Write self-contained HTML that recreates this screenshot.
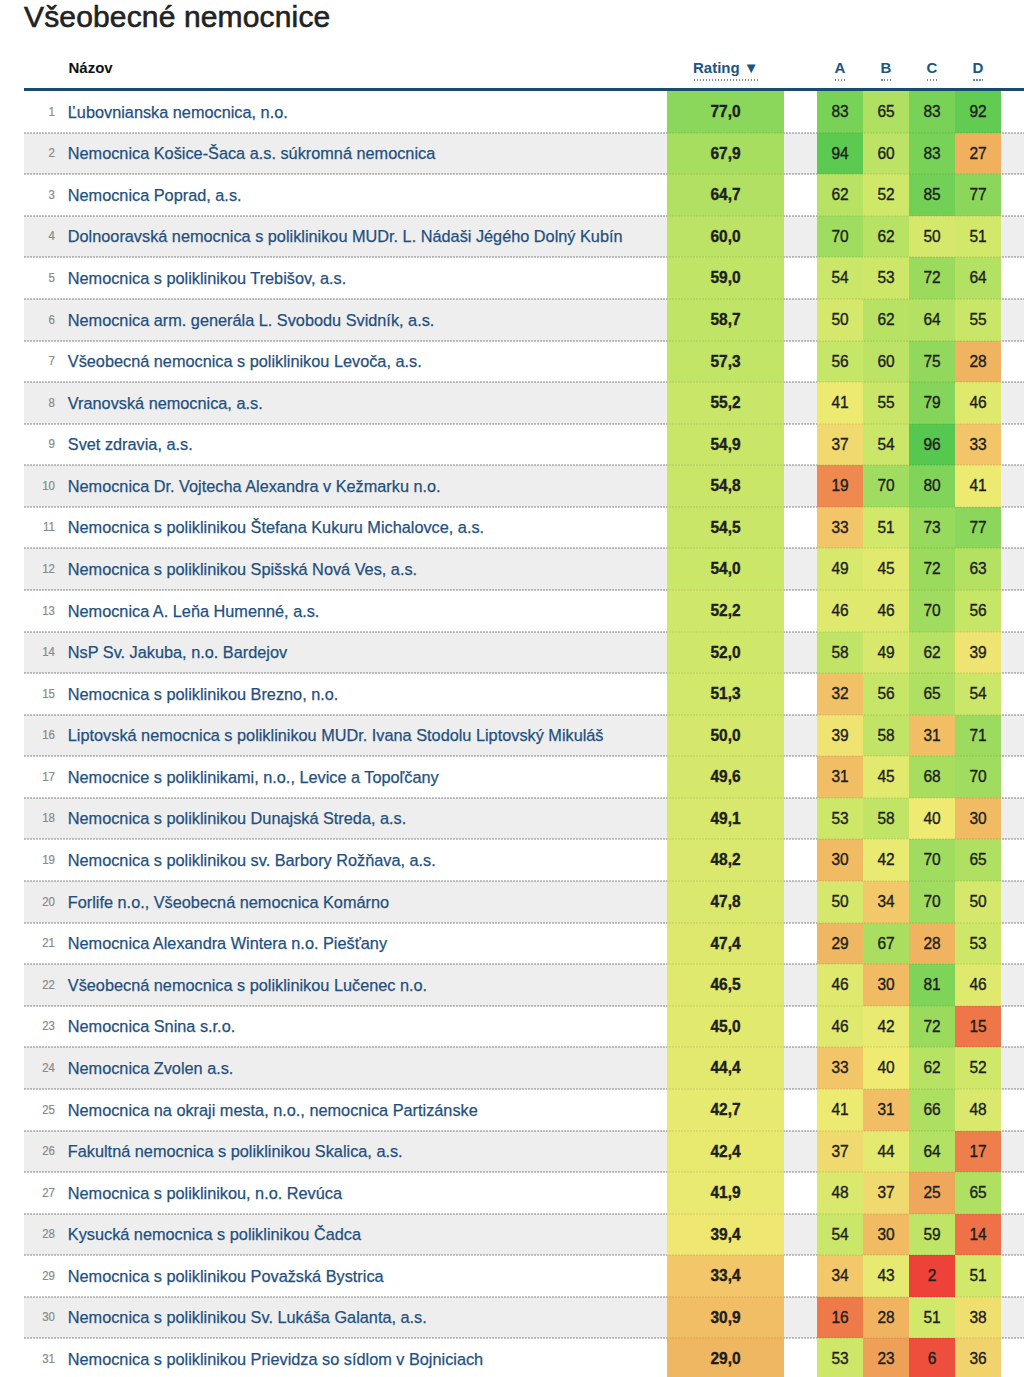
<!DOCTYPE html>
<html><head><meta charset="utf-8"><style>
html,body{margin:0;padding:0;background:#fff;}
body{width:1024px;height:1377px;overflow:hidden;position:relative;font-family:"Liberation Sans",sans-serif;}
.t{position:absolute;white-space:nowrap;}
.title{-webkit-text-stroke:0.6px #222;left:24px;top:-3.5px;font-size:30px;line-height:40px;color:#222;letter-spacing:0.15px;}
.hd{position:absolute;top:53px;height:30px;line-height:30px;font-weight:bold;font-size:15px;white-space:nowrap;}
.hd.blue{color:#1d5582;}
.ul{position:absolute;top:79px;height:2px;background-image:repeating-linear-gradient(90deg,#6d8da6 0,#6d8da6 1.5px,transparent 1.5px,transparent 3px);}
.bar{position:absolute;left:24px;width:1000px;top:88px;height:3px;background:#1a4b6c;}
.row{position:absolute;left:24px;width:1000px;height:41.577px;}
.row.g{background:#eeeeee;}
.dot{position:absolute;left:24px;width:1000px;height:2px;background-image:repeating-linear-gradient(90deg,rgba(0,0,0,0.19) 0,rgba(0,0,0,0.19) 2px,transparent 2px,transparent 3px);z-index:1;}
.dot.f{z-index:3;background-image:repeating-linear-gradient(90deg,rgba(0,0,0,0.06) 0,rgba(0,0,0,0.06) 2px,transparent 2px,transparent 3px);}
.num{position:absolute;left:0;width:31px;text-align:right;font-size:11.5px;color:#8a8a8a;top:0;}
.nm{-webkit-text-stroke:0.25px #1f5080;position:absolute;left:43.8px;font-size:16.3px;color:#1f5080;top:0;white-space:nowrap;letter-spacing:0px;}
.c{z-index:2;-webkit-text-stroke:0.35px #1e1e1e;position:absolute;top:0;height:100%;text-align:center;color:#1e1e1e;}
.r{left:643px;width:117px;font-weight:bold;font-size:15.5px;}
.s{width:46px;font-size:15.5px;}
.c span{display:inline-block;transform:scaleY(1.07);transform-origin:50% 26px;}
.num{-webkit-text-stroke:0.2px #8a8a8a;transform:scaleY(1.15);transform-origin:50% 26px;}
</style></head><body>

<div class="t title">Všeobecné nemocnice</div>
<div class="hd" style="left:68.5px;color:#111">Názov</div>
<div class="hd blue" style="left:693px">Rating ▼</div>
<div class="ul" style="left:694px;width:64px"></div>
<div class="hd blue" style="left:817px;width:46px;text-align:center">A</div>
<div class="ul" style="left:835px;width:10px"></div>
<div class="hd blue" style="left:863px;width:46px;text-align:center">B</div>
<div class="ul" style="left:881px;width:10px"></div>
<div class="hd blue" style="left:909px;width:46px;text-align:center">C</div>
<div class="ul" style="left:927px;width:10px"></div>
<div class="hd blue" style="left:955px;width:46px;text-align:center">D</div>
<div class="ul" style="left:973px;width:10px"></div>
<div class="bar"></div>
<div class="row" style="top:91px;height:42px;line-height:42px"><div class="num">1</div><div class="nm">Ľubovnianska nemocnica, n.o.</div><div class="c r" style="background:#8bd75b"><span>77,0</span></div><div class="c s" style="left:793px;background:#78d258"><span>83</span></div><div class="c s" style="left:839px;background:#b0e062"><span>65</span></div><div class="c s" style="left:885px;background:#78d258"><span>83</span></div><div class="c s" style="left:931px;background:#61cb52"><span>92</span></div></div>
<div class="row g" style="top:133px;height:41px;line-height:41px"><div class="num">2</div><div class="nm">Nemocnica Košice-Šaca a.s. súkromná nemocnica</div><div class="c r" style="background:#a7de60"><span>67,9</span></div><div class="c s" style="left:793px;background:#5cc950"><span>94</span></div><div class="c s" style="left:839px;background:#bce365"><span>60</span></div><div class="c s" style="left:885px;background:#78d258"><span>83</span></div><div class="c s" style="left:931px;background:#f0b05e"><span>27</span></div></div>
<div class="dot" style="top:132.00px"></div>
<div class="dot f" style="top:132.00px"></div>
<div class="row" style="top:174px;height:42px;line-height:42px"><div class="num">3</div><div class="nm">Nemocnica Poprad, a.s.</div><div class="c r" style="background:#b1e062"><span>64,7</span></div><div class="c s" style="left:793px;background:#b7e264"><span>62</span></div><div class="c s" style="left:839px;background:#d0e86a"><span>52</span></div><div class="c s" style="left:885px;background:#73d057"><span>85</span></div><div class="c s" style="left:931px;background:#8bd75b"><span>77</span></div></div>
<div class="dot" style="top:173.00px"></div>
<div class="dot f" style="top:173.00px"></div>
<div class="row g" style="top:216px;height:41px;line-height:41px"><div class="num">4</div><div class="nm">Dolnooravská nemocnica s poliklinikou MUDr. L. Nádaši Jégého Dolný Kubín</div><div class="c r" style="background:#bce365"><span>60,0</span></div><div class="c s" style="left:793px;background:#a0dc5f"><span>70</span></div><div class="c s" style="left:839px;background:#b7e264"><span>62</span></div><div class="c s" style="left:885px;background:#d5e86b"><span>50</span></div><div class="c s" style="left:931px;background:#d2e86b"><span>51</span></div></div>
<div class="dot" style="top:215.00px"></div>
<div class="dot f" style="top:215.00px"></div>
<div class="row" style="top:257px;height:42px;line-height:42px"><div class="num">5</div><div class="nm">Nemocnica s poliklinikou Trebišov, a.s.</div><div class="c r" style="background:#bfe466"><span>59,0</span></div><div class="c s" style="left:793px;background:#cbe769"><span>54</span></div><div class="c s" style="left:839px;background:#cee769"><span>53</span></div><div class="c s" style="left:885px;background:#9adb5e"><span>72</span></div><div class="c s" style="left:931px;background:#b2e163"><span>64</span></div></div>
<div class="dot" style="top:256.00px"></div>
<div class="dot f" style="top:256.00px"></div>
<div class="row g" style="top:299px;height:42px;line-height:42px"><div class="num">6</div><div class="nm">Nemocnica arm. generála L. Svobodu Svidník, a.s.</div><div class="c r" style="background:#c0e466"><span>58,7</span></div><div class="c s" style="left:793px;background:#d5e86b"><span>50</span></div><div class="c s" style="left:839px;background:#b7e264"><span>62</span></div><div class="c s" style="left:885px;background:#b2e163"><span>64</span></div><div class="c s" style="left:931px;background:#c9e668"><span>55</span></div></div>
<div class="dot" style="top:298.00px"></div>
<div class="dot f" style="top:298.00px"></div>
<div class="row" style="top:341px;height:41px;line-height:41px"><div class="num">7</div><div class="nm">Všeobecná nemocnica s poliklinikou Levoča, a.s.</div><div class="c r" style="background:#c3e567"><span>57,3</span></div><div class="c s" style="left:793px;background:#c6e668"><span>56</span></div><div class="c s" style="left:839px;background:#bce365"><span>60</span></div><div class="c s" style="left:885px;background:#91d85c"><span>75</span></div><div class="c s" style="left:931px;background:#f0b460"><span>28</span></div></div>
<div class="dot" style="top:340.00px"></div>
<div class="dot f" style="top:340.00px"></div>
<div class="row g" style="top:382px;height:42px;line-height:42px"><div class="num">8</div><div class="nm">Vranovská nemocnica, a.s.</div><div class="c r" style="background:#c8e668"><span>55,2</span></div><div class="c s" style="left:793px;background:#ecea71"><span>41</span></div><div class="c s" style="left:839px;background:#c9e668"><span>55</span></div><div class="c s" style="left:885px;background:#84d55a"><span>79</span></div><div class="c s" style="left:931px;background:#dfe96e"><span>46</span></div></div>
<div class="dot" style="top:381.00px"></div>
<div class="dot f" style="top:381.00px"></div>
<div class="row" style="top:424px;height:41px;line-height:41px"><div class="num">9</div><div class="nm">Svet zdravia, a.s.</div><div class="c r" style="background:#c9e668"><span>54,9</span></div><div class="c s" style="left:793px;background:#f0d96e"><span>37</span></div><div class="c s" style="left:839px;background:#cbe769"><span>54</span></div><div class="c s" style="left:885px;background:#56c74f"><span>96</span></div><div class="c s" style="left:931px;background:#f2c568"><span>33</span></div></div>
<div class="dot" style="top:423.00px"></div>
<div class="dot f" style="top:423.00px"></div>
<div class="row g" style="top:465px;height:42px;line-height:42px"><div class="num">10</div><div class="nm">Nemocnica Dr. Vojtecha Alexandra v Kežmarku n.o.</div><div class="c r" style="background:#c9e668"><span>54,8</span></div><div class="c s" style="left:793px;background:#ee8a50"><span>19</span></div><div class="c s" style="left:839px;background:#a0dc5f"><span>70</span></div><div class="c s" style="left:885px;background:#81d45a"><span>80</span></div><div class="c s" style="left:931px;background:#ecea71"><span>41</span></div></div>
<div class="dot" style="top:464.00px"></div>
<div class="dot f" style="top:464.00px"></div>
<div class="row" style="top:507px;height:41px;line-height:41px"><div class="num">11</div><div class="nm">Nemocnica s poliklinikou Štefana Kukuru Michalovce, a.s.</div><div class="c r" style="background:#cae668"><span>54,5</span></div><div class="c s" style="left:793px;background:#f2c568"><span>33</span></div><div class="c s" style="left:839px;background:#d2e86b"><span>51</span></div><div class="c s" style="left:885px;background:#97da5e"><span>73</span></div><div class="c s" style="left:931px;background:#8bd75b"><span>77</span></div></div>
<div class="dot" style="top:506.00px"></div>
<div class="dot f" style="top:506.00px"></div>
<div class="row g" style="top:548px;height:42px;line-height:42px"><div class="num">12</div><div class="nm">Nemocnica s poliklinikou Spišská Nová Ves, a.s.</div><div class="c r" style="background:#cbe769"><span>54,0</span></div><div class="c s" style="left:793px;background:#d8e86c"><span>49</span></div><div class="c s" style="left:839px;background:#e2e96f"><span>45</span></div><div class="c s" style="left:885px;background:#9adb5e"><span>72</span></div><div class="c s" style="left:931px;background:#b5e163"><span>63</span></div></div>
<div class="dot" style="top:547.00px"></div>
<div class="dot f" style="top:547.00px"></div>
<div class="row" style="top:590px;height:42px;line-height:42px"><div class="num">13</div><div class="nm">Nemocnica A. Leňa Humenné, a.s.</div><div class="c r" style="background:#d0e86a"><span>52,2</span></div><div class="c s" style="left:793px;background:#dfe96e"><span>46</span></div><div class="c s" style="left:839px;background:#dfe96e"><span>46</span></div><div class="c s" style="left:885px;background:#a0dc5f"><span>70</span></div><div class="c s" style="left:931px;background:#c6e668"><span>56</span></div></div>
<div class="dot" style="top:589.00px"></div>
<div class="dot f" style="top:589.00px"></div>
<div class="row g" style="top:632px;height:41px;line-height:41px"><div class="num">14</div><div class="nm">NsP Sv. Jakuba, n.o. Bardejov</div><div class="c r" style="background:#d0e86a"><span>52,0</span></div><div class="c s" style="left:793px;background:#c1e466"><span>58</span></div><div class="c s" style="left:839px;background:#d8e86c"><span>49</span></div><div class="c s" style="left:885px;background:#b7e264"><span>62</span></div><div class="c s" style="left:931px;background:#efe471"><span>39</span></div></div>
<div class="dot" style="top:631.00px"></div>
<div class="dot f" style="top:631.00px"></div>
<div class="row" style="top:673px;height:42px;line-height:42px"><div class="num">15</div><div class="nm">Nemocnica s poliklinikou Brezno, n.o.</div><div class="c r" style="background:#d2e86a"><span>51,3</span></div><div class="c s" style="left:793px;background:#f1c167"><span>32</span></div><div class="c s" style="left:839px;background:#c6e668"><span>56</span></div><div class="c s" style="left:885px;background:#b0e062"><span>65</span></div><div class="c s" style="left:931px;background:#cbe769"><span>54</span></div></div>
<div class="dot" style="top:672.00px"></div>
<div class="dot f" style="top:672.00px"></div>
<div class="row g" style="top:715px;height:41px;line-height:41px"><div class="num">16</div><div class="nm">Liptovská nemocnica s poliklinikou MUDr. Ivana Stodolu Liptovský Mikuláš</div><div class="c r" style="background:#d5e86b"><span>50,0</span></div><div class="c s" style="left:793px;background:#efe471"><span>39</span></div><div class="c s" style="left:839px;background:#c1e466"><span>58</span></div><div class="c s" style="left:885px;background:#f1be65"><span>31</span></div><div class="c s" style="left:931px;background:#9ddb5f"><span>71</span></div></div>
<div class="dot" style="top:714.00px"></div>
<div class="dot f" style="top:714.00px"></div>
<div class="row" style="top:756px;height:42px;line-height:42px"><div class="num">17</div><div class="nm">Nemocnice s poliklinikami, n.o., Levice a Topoľčany</div><div class="c r" style="background:#d6e86c"><span>49,6</span></div><div class="c s" style="left:793px;background:#f1be65"><span>31</span></div><div class="c s" style="left:839px;background:#e2e96f"><span>45</span></div><div class="c s" style="left:885px;background:#a7de60"><span>68</span></div><div class="c s" style="left:931px;background:#a0dc5f"><span>70</span></div></div>
<div class="dot" style="top:755.00px"></div>
<div class="dot f" style="top:755.00px"></div>
<div class="row g" style="top:798px;height:41px;line-height:41px"><div class="num">18</div><div class="nm">Nemocnica s poliklinikou Dunajská Streda, a.s.</div><div class="c r" style="background:#d7e86c"><span>49,1</span></div><div class="c s" style="left:793px;background:#cee769"><span>53</span></div><div class="c s" style="left:839px;background:#c1e466"><span>58</span></div><div class="c s" style="left:885px;background:#eeea72"><span>40</span></div><div class="c s" style="left:931px;background:#f1bb63"><span>30</span></div></div>
<div class="dot" style="top:797.00px"></div>
<div class="dot f" style="top:797.00px"></div>
<div class="row" style="top:839px;height:42px;line-height:42px"><div class="num">19</div><div class="nm">Nemocnica s poliklinikou sv. Barbory Rožňava, a.s.</div><div class="c r" style="background:#dae96d"><span>48,2</span></div><div class="c s" style="left:793px;background:#f1bb63"><span>30</span></div><div class="c s" style="left:839px;background:#e9ea71"><span>42</span></div><div class="c s" style="left:885px;background:#a0dc5f"><span>70</span></div><div class="c s" style="left:931px;background:#b0e062"><span>65</span></div></div>
<div class="dot" style="top:838.00px"></div>
<div class="dot f" style="top:838.00px"></div>
<div class="row g" style="top:881px;height:42px;line-height:42px"><div class="num">20</div><div class="nm">Forlife n.o., Všeobecná nemocnica Komárno</div><div class="c r" style="background:#dae96d"><span>47,8</span></div><div class="c s" style="left:793px;background:#d5e86b"><span>50</span></div><div class="c s" style="left:839px;background:#f2c86a"><span>34</span></div><div class="c s" style="left:885px;background:#a0dc5f"><span>70</span></div><div class="c s" style="left:931px;background:#d5e86b"><span>50</span></div></div>
<div class="dot" style="top:880.00px"></div>
<div class="dot f" style="top:880.00px"></div>
<div class="row" style="top:923px;height:41px;line-height:41px"><div class="num">21</div><div class="nm">Nemocnica Alexandra Wintera n.o. Piešťany</div><div class="c r" style="background:#dce96d"><span>47,4</span></div><div class="c s" style="left:793px;background:#f0b762"><span>29</span></div><div class="c s" style="left:839px;background:#aade61"><span>67</span></div><div class="c s" style="left:885px;background:#f0b460"><span>28</span></div><div class="c s" style="left:931px;background:#cee769"><span>53</span></div></div>
<div class="dot" style="top:922.00px"></div>
<div class="dot f" style="top:922.00px"></div>
<div class="row g" style="top:964px;height:42px;line-height:42px"><div class="num">22</div><div class="nm">Všeobecná nemocnica s poliklinikou Lučenec n.o.</div><div class="c r" style="background:#dee96e"><span>46,5</span></div><div class="c s" style="left:793px;background:#dfe96e"><span>46</span></div><div class="c s" style="left:839px;background:#f1bb63"><span>30</span></div><div class="c s" style="left:885px;background:#7ed459"><span>81</span></div><div class="c s" style="left:931px;background:#dfe96e"><span>46</span></div></div>
<div class="dot" style="top:963.00px"></div>
<div class="dot f" style="top:963.00px"></div>
<div class="row" style="top:1006px;height:41px;line-height:41px"><div class="num">23</div><div class="nm">Nemocnica Snina s.r.o.</div><div class="c r" style="background:#e2e96f"><span>45,0</span></div><div class="c s" style="left:793px;background:#dfe96e"><span>46</span></div><div class="c s" style="left:839px;background:#e9ea71"><span>42</span></div><div class="c s" style="left:885px;background:#9adb5e"><span>72</span></div><div class="c s" style="left:931px;background:#ee7649"><span>15</span></div></div>
<div class="dot" style="top:1005.00px"></div>
<div class="dot f" style="top:1005.00px"></div>
<div class="row g" style="top:1047px;height:42px;line-height:42px"><div class="num">24</div><div class="nm">Nemocnica Zvolen a.s.</div><div class="c r" style="background:#e3e96f"><span>44,4</span></div><div class="c s" style="left:793px;background:#f2c568"><span>33</span></div><div class="c s" style="left:839px;background:#eeea72"><span>40</span></div><div class="c s" style="left:885px;background:#b7e264"><span>62</span></div><div class="c s" style="left:931px;background:#d0e86a"><span>52</span></div></div>
<div class="dot" style="top:1046.00px"></div>
<div class="dot f" style="top:1046.00px"></div>
<div class="row" style="top:1089px;height:42px;line-height:42px"><div class="num">25</div><div class="nm">Nemocnica na okraji mesta, n.o., nemocnica Partizánske</div><div class="c r" style="background:#e7ea70"><span>42,7</span></div><div class="c s" style="left:793px;background:#ecea71"><span>41</span></div><div class="c s" style="left:839px;background:#f1be65"><span>31</span></div><div class="c s" style="left:885px;background:#addf61"><span>66</span></div><div class="c s" style="left:931px;background:#dae96d"><span>48</span></div></div>
<div class="dot" style="top:1088.00px"></div>
<div class="dot f" style="top:1088.00px"></div>
<div class="row g" style="top:1131px;height:41px;line-height:41px"><div class="num">26</div><div class="nm">Fakultná nemocnica s poliklinikou Skalica, a.s.</div><div class="c r" style="background:#e8ea70"><span>42,4</span></div><div class="c s" style="left:793px;background:#f0d96e"><span>37</span></div><div class="c s" style="left:839px;background:#e4e96f"><span>44</span></div><div class="c s" style="left:885px;background:#b2e163"><span>64</span></div><div class="c s" style="left:931px;background:#ee7f4c"><span>17</span></div></div>
<div class="dot" style="top:1130.00px"></div>
<div class="dot f" style="top:1130.00px"></div>
<div class="row" style="top:1172px;height:42px;line-height:42px"><div class="num">27</div><div class="nm">Nemocnica s poliklinikou, n.o. Revúca</div><div class="c r" style="background:#e9ea71"><span>41,9</span></div><div class="c s" style="left:793px;background:#dae96d"><span>48</span></div><div class="c s" style="left:839px;background:#f0d96e"><span>37</span></div><div class="c s" style="left:885px;background:#efa85b"><span>25</span></div><div class="c s" style="left:931px;background:#b0e062"><span>65</span></div></div>
<div class="dot" style="top:1171.00px"></div>
<div class="dot f" style="top:1171.00px"></div>
<div class="row g" style="top:1214px;height:41px;line-height:41px"><div class="num">28</div><div class="nm">Kysucká nemocnica s poliklinikou Čadca</div><div class="c r" style="background:#eee771"><span>39,4</span></div><div class="c s" style="left:793px;background:#cbe769"><span>54</span></div><div class="c s" style="left:839px;background:#f1bb63"><span>30</span></div><div class="c s" style="left:885px;background:#bfe466"><span>59</span></div><div class="c s" style="left:931px;background:#ee7147"><span>14</span></div></div>
<div class="dot" style="top:1213.00px"></div>
<div class="dot f" style="top:1213.00px"></div>
<div class="row" style="top:1255px;height:42px;line-height:42px"><div class="num">29</div><div class="nm">Nemocnica s poliklinikou Považská Bystrica</div><div class="c r" style="background:#f2c669"><span>33,4</span></div><div class="c s" style="left:793px;background:#f2c86a"><span>34</span></div><div class="c s" style="left:839px;background:#e6ea70"><span>43</span></div><div class="c s" style="left:885px;background:#ee4138"><span>2</span></div><div class="c s" style="left:931px;background:#d2e86b"><span>51</span></div></div>
<div class="dot" style="top:1254.00px"></div>
<div class="dot f" style="top:1254.00px"></div>
<div class="row g" style="top:1297px;height:41px;line-height:41px"><div class="num">30</div><div class="nm">Nemocnica s poliklinikou Sv. Lukáša Galanta, a.s.</div><div class="c r" style="background:#f1be65"><span>30,9</span></div><div class="c s" style="left:793px;background:#ee7a4a"><span>16</span></div><div class="c s" style="left:839px;background:#f0b460"><span>28</span></div><div class="c s" style="left:885px;background:#d2e86b"><span>51</span></div><div class="c s" style="left:931px;background:#efdf6f"><span>38</span></div></div>
<div class="dot" style="top:1296.00px"></div>
<div class="dot f" style="top:1296.00px"></div>
<div class="row" style="top:1338px;height:42px;line-height:42px"><div class="num">31</div><div class="nm">Nemocnica s poliklinikou Prievidza so sídlom v Bojniciach</div><div class="c r" style="background:#f0b762"><span>29,0</span></div><div class="c s" style="left:793px;background:#cee769"><span>53</span></div><div class="c s" style="left:839px;background:#eea058"><span>23</span></div><div class="c s" style="left:885px;background:#ee4e3c"><span>6</span></div><div class="c s" style="left:931px;background:#f1d36d"><span>36</span></div></div>
<div class="dot" style="top:1337.00px"></div>
<div class="dot f" style="top:1337.00px"></div>
</body></html>
